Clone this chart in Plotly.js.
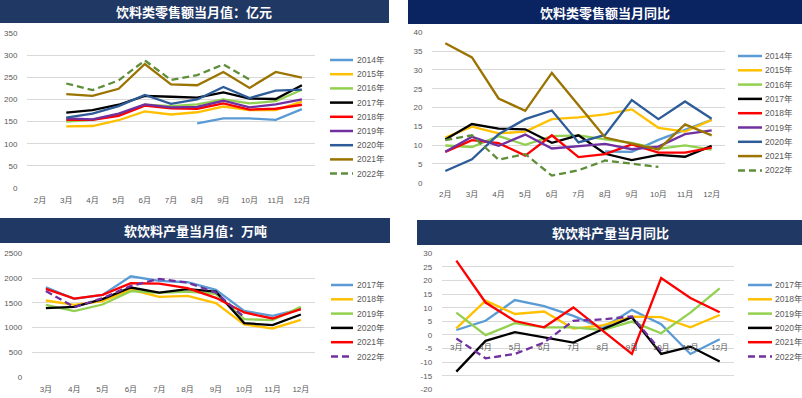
<!DOCTYPE html>
<html><head><meta charset="utf-8">
<script src="https://cdn.plot.ly/plotly-3.0.1.min.js"></script>
<style>html,body{margin:0;padding:0;background:#fff}#chart{width:802px;height:398px}</style>
</head><body><div id="chart"></div>
<script>
// ---------- data ----------
const monthsA = ['2月','3月','4月','5月','6月','7月','8月','9月','10月','11月','12月'];
const monthsB = ['3月','4月','5月','6月','7月','8月','9月','10月','11月','12月'];

const retailNames = ['2014年','2015年','2016年','2017年','2018年','2019年','2020年','2021年','2022年'];
const retail2014 = [null,null,null,null,null,null,146,157,157,154,178];
const retail2015 = [null,139,140,153,173,166,171,184,176,176,195];
const retail2016 = [null,150,154,166,188,185,189,200,191,196,222];
const retail2017 = [null,170,176,188,208,206,204,216,202,201,232];
const retail2018 = [null,154,154,163,186,180,179,191,177,179,188];
const retail2019 = [null,157,155,168,189,182,183,197,182,189,200];
const retail2020 = [null,159,168,185,210,190,200,228,203,220,222];
const retail2021 = [null,212,208,224,280,234,232,262,226,262,249];
const retail2022 = [null,236,221,243,288,244,255,279,245,null,null];

const retailYoY2014 = [null,null,null,null,null,null,8.3,8.2,11.4,14.0,16.7];
const retailYoY2015 = [12.0,14.9,13.1,13.6,16.9,17.4,18.2,19.5,14.6,13.6,16.7];
const retailYoY2016 = [9.9,9.5,12.4,10.1,12.4,12.6,11.5,10.6,9.0,9.9,8.8];
const retailYoY2017 = [11.5,15.6,14.4,14.2,10.6,12.6,7.7,6.0,7.4,6.9,9.8];
const retailYoY2018 = [8.2,11.3,10.5,7.2,12.6,6.8,7.6,10.2,8.0,8.0,9.3];
const retailYoY2019 = [8.2,12.2,9.8,12.8,9.1,9.8,10.3,8.9,9.6,12.9,13.9];
const retailYoY2020 = [3.1,6.2,12.9,16.9,19.2,10.7,12.7,22.0,16.9,21.6,17.0];
const retailYoY2021 = [37.1,33.3,22.4,19.1,29.2,20.7,12.0,10.4,8.8,15.5,12.6];
const retailYoY2022 = [11.3,12.6,6.1,7.6,1.9,3.3,5.9,5.0,4.2,null,null];

const softNames = ['2017年','2018年','2019年','2020年','2021年','2022年'];
const soft2017 = [1814,1579,1660,2036,1942,1915,1761,1337,1237,1371];
const soft2018 = [1546,1458,1532,1767,1620,1640,1492,1062,981,1156];
const soft2019 = [1458,1331,1465,1734,1700,1727,1680,1169,1149,1418];
const soft2020 = [1391,1418,1573,1808,1707,1774,1727,1089,1048,1263];
const soft2021 = [1781,1586,1660,1895,1888,1794,1600,1304,1183,1371];
const soft2022 = [1740,1411,1593,1841,1982,1908,1707,1210,null,null];

const softYoY2017 = [1.8,5.2,12.8,10.6,7.0,2.5,9.2,3.9,-7.0,-1.6];
const softYoY2018 = [2.4,12.6,7.7,8.6,2.3,3.5,6.7,6.5,2.8,7.3];
const softYoY2019 = [8.2,-0.1,4.3,2.8,2.8,1.8,4.9,0.6,8.2,17.1];
const softYoY2020 = [-13.5,-2.2,1.0,-0.9,-2.8,2.1,6.5,-7.0,-4.3,-9.8];
const softYoY2021 = [27.3,11.9,5.1,2.8,10.1,1.6,-7.0,20.9,13.6,8.3];
const softYoY2022 = [-1.3,-8.6,-7.0,-2.8,5.2,5.7,6.8,-6.0,null,null];
const softYoYTicks = [-20,-15,-10,-5,0,5,10,15,20,25,30];

const titles = ['饮料类零售额当月值：亿元','饮料类零售额当月同比','软饮料产量当月值：万吨','软饮料产量当月同比'];

// ---------- styles ----------
const W = 802, H = 398;
const X = p => p / W, Y = p => 1 - p / H;
const FONT = 'Liberation Sans, Arial, Noto Sans CJK SC, sans-serif';
const retailStyle = [
  {c:'#5B9BD5'},{c:'#FFC000'},{c:'#92D050'},{c:'#000000'},{c:'#FF0000'},
  {c:'#7030A0'},{c:'#2E5C98'},{c:'#9A7300'},{c:'#5E8E3A', dash:'7px,4px'}
];
const softStyle = [
  {c:'#5B9BD5'},{c:'#FFC000'},{c:'#92D050'},{c:'#000000'},{c:'#FF0000'},{c:'#7030A0', dash:'7px,4px'}
];

const traces = [];
function addSeries(names, seriesList, styles, cats, xa, ya) {
  seriesList.forEach((ys, i) => {
    traces.push({
      type:'scatter', mode:'lines', x:cats, y:ys, name:names[i],
      xaxis:xa, yaxis:ya, connectgaps:false, showlegend:false,
      line:{color:styles[i].c, width:2.3, dash:styles[i].dash || 'solid'},
      hoverinfo:'x+y+name'
    });
  });
}
addSeries(retailNames, [retail2014,retail2015,retail2016,retail2017,retail2018,retail2019,retail2020,retail2021,retail2022], retailStyle, monthsA, 'x', 'y');
addSeries(retailNames, [retailYoY2014,retailYoY2015,retailYoY2016,retailYoY2017,retailYoY2018,retailYoY2019,retailYoY2020,retailYoY2021,retailYoY2022], retailStyle, monthsA, 'x2', 'y2');
addSeries(softNames, [soft2017,soft2018,soft2019,soft2020,soft2021,soft2022], softStyle, monthsB, 'x3', 'y3');
addSeries(softNames, [softYoY2017,softYoY2018,softYoY2019,softYoY2020,softYoY2021,softYoY2022], softStyle, monthsB, 'x4', 'y4');

const tickfont = {size:8, color:'#595959', family:FONT};
function xax(domain, n, anchor, extra) {
  return Object.assign({domain, anchor, type:'category', range:[-0.5, n-0.5], showgrid:false, zeroline:false,
    showline:false, ticks:'outside', ticklen:4, tickcolor:'rgba(0,0,0,0)', tickfont, fixedrange:true}, extra||{});
}
function yax(domain, range, dtick, anchor, extra) {
  return Object.assign({domain, anchor, range, dtick, showgrid:true, gridcolor:'#D9D9D9', gridwidth:1,
    zeroline:false, showline:false, ticks:'outside', ticklen:7, tickcolor:'rgba(0,0,0,0)', tickfont, fixedrange:true}, extra||{});
}

const layout = {
  width:W, height:H, margin:{l:0,r:0,t:0,b:0}, paper_bgcolor:'#fff', plot_bgcolor:'rgba(0,0,0,0)',
  showlegend:false, font:{family:FONT},
  xaxis: xax([X(27), X(315)], 11, 'y'),
  yaxis: yax([Y(188), Y(33)], [0,350], 50, 'x'),
  xaxis2: xax([X(432), X(725)], 11, 'y2'),
  yaxis2: yax([Y(182.7), Y(32.3)], [0,40], 5, 'x2'),
  xaxis3: xax([X(31.7), X(315)], 10, 'y3'),
  yaxis3: yax([Y(377), Y(253.3)], [0,2500], 500, 'x3'),
  xaxis4: xax([X(441.7), X(734.3)], 10, 'free', {position: Y(335)}),
  yaxis4: yax([Y(389.3), Y(253.3)], [-20,30], 5, 'x4', {tickmode:'array', tickvals:softYoYTicks, ticktext:softYoYTicks.map(String)}),
  shapes:[], annotations:[]
};

// title bars
const bars = [
  {x0:0, x1:389, y0:0, y1:23, c:'#203864'},
  {x0:408, x1:802, y0:0, y1:24, c:'#0A2462'},
  {x0:0, x1:390, y0:218, y1:243, c:'#203864'},
  {x0:417, x1:802, y0:220, y1:245, c:'#203864'}
];
bars.forEach((b, i) => {
  layout.shapes.push({type:'rect', xref:'paper', yref:'paper', x0:X(b.x0), x1:X(b.x1), y0:Y(b.y1), y1:Y(b.y0),
    fillcolor:b.c, line:{width:0}, layer:'below'});
  const cx = [194, 605, 195, 610][i];
  layout.annotations.push({xref:'paper', yref:'paper', x:X(cx), y:Y((b.y0+b.y1)/2), xanchor:'center', yanchor:'middle',
    showarrow:false, text:titles[i], font:{family:'Noto Sans CJK SC, sans-serif', size:13, color:'#fff', weight:700}});
});

// legends
function addLegend(names, styles, lx0, lx1, tx, y0, step) {
  names.forEach((n, i) => {
    const py = y0 + i*step;
    layout.shapes.push({type:'line', xref:'paper', yref:'paper', x0:X(lx0), x1:X(lx1), y0:Y(py), y1:Y(py),
      line:{color:styles[i].c, width:2.5, dash:styles[i].dash || 'solid'}});
    layout.annotations.push({xref:'paper', yref:'paper', x:X(tx), y:Y(py), xanchor:'left', yanchor:'middle',
      showarrow:false, text:n, font:{family:FONT, size:8.5, color:'#595959'}});
  });
}
addLegend(retailNames, retailStyle, 330, 353, 355, 60, 14.2);
addLegend(retailNames, retailStyle, 738, 762, 763, 56, 14.3);
addLegend(softNames, softStyle, 331, 353, 355, 285, 14.3);
addLegend(softNames, softStyle, 748, 772, 773, 285, 14.3);

Plotly.newPlot('chart', traces, layout, {staticPlot:true, displayModeBar:false});
</script>
</body></html>
